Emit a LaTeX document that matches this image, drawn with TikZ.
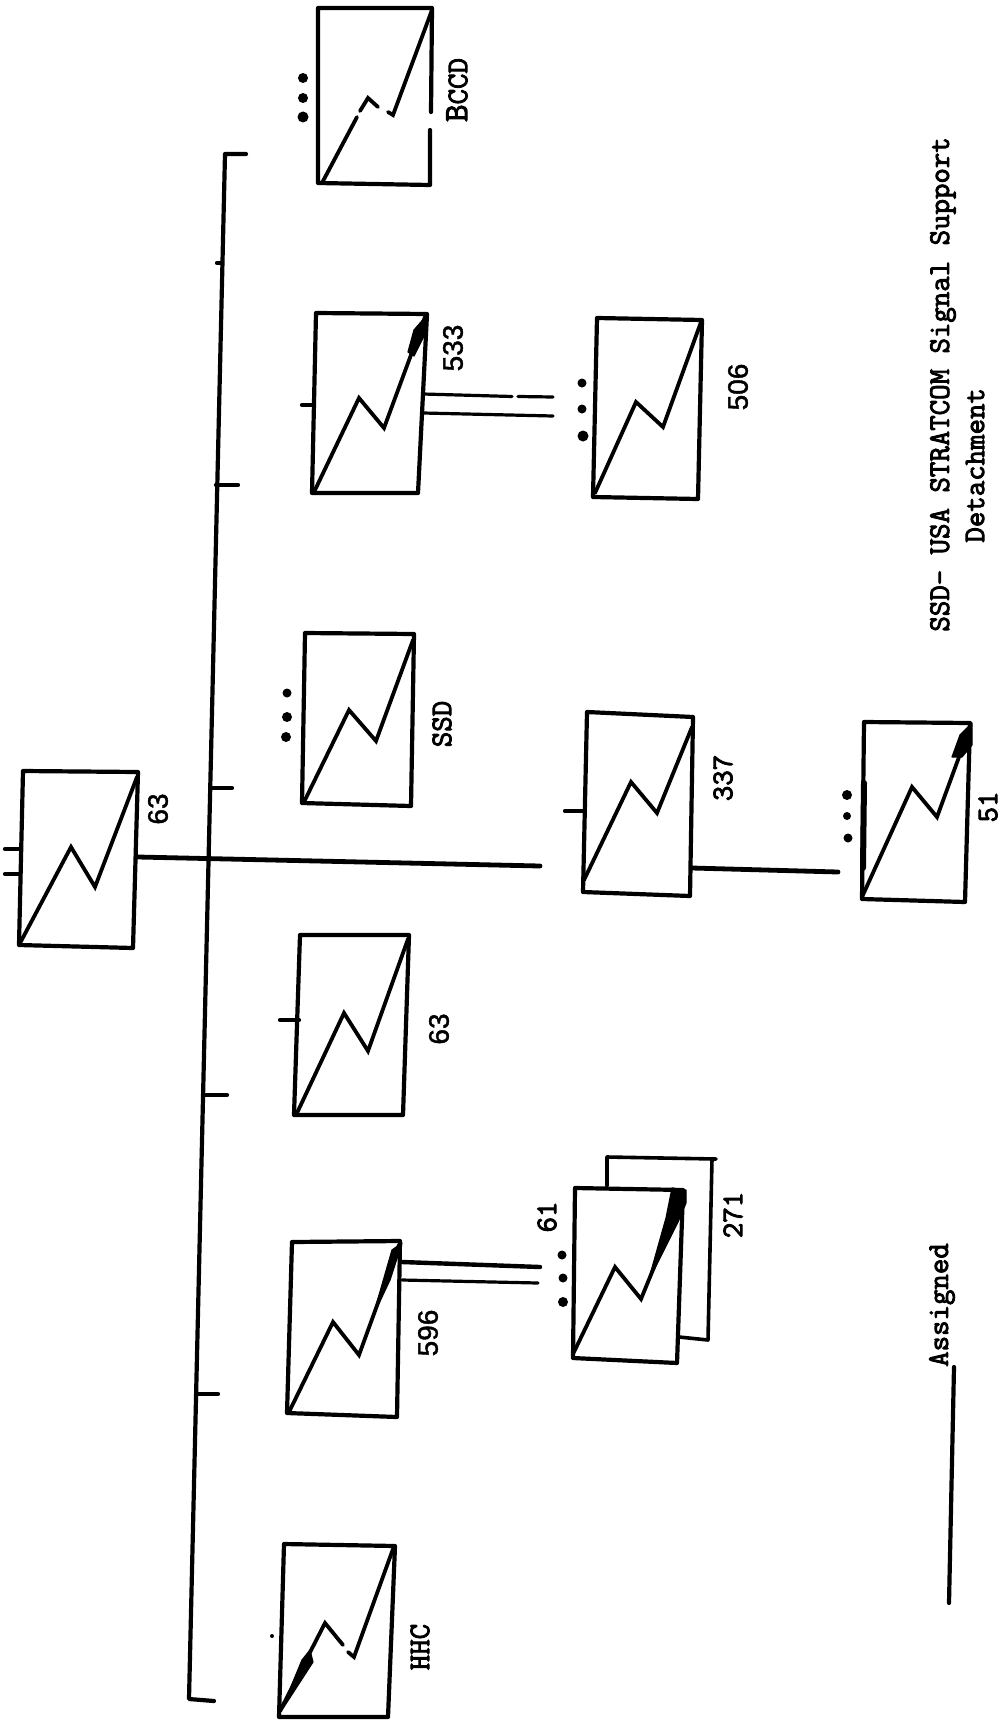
\documentclass[tikz,border=0pt]{standalone}
\usepackage{fontspec}
\setmainfont{Liberation Sans}[BoldFont={Liberation Sans},BoldFeatures={FakeBold=1.5}]
\newfontfamily\typed{Latin Modern Mono}[BoldFont={Latin Modern Mono},BoldFeatures={FakeBold=3}]
\tikzset{
  x=0.5pt,y=-0.5pt,
  boxline/.style={line width=2.1pt,line join=round,line cap=round},
  bolt/.style={line width=1.9pt,line join=miter,line cap=round},
  link/.style={line width=2.1pt,line cap=round},
  thinlink/.style={line width=1.6pt,line cap=round},
  blob/.style={fill=black,draw=black,line width=0.6pt,line join=round},
  dotmark/.style={circle,fill=black,inner sep=0pt,minimum size=#1},
  dotmark/.default=4.5pt,
  handnum/.style={rotate=90,inner sep=0pt,font=\bfseries\fontsize{14}{14}\selectfont},
  typenum/.style={rotate=90,inner sep=0pt,font=\typed\bfseries\fontsize{15}{15}\selectfont},
  legend/.style={rotate=90,inner sep=0pt,font=\typed\bfseries\fontsize{15}{15}\selectfont}
}
% name, four corners TL TR BR BL, four bolt points
\newcommand{\unitbox}[9]{%
  \coordinate (#1-tl) at (#2);\coordinate (#1-tr) at (#3);
  \coordinate (#1-br) at (#4);\coordinate (#1-bl) at (#5);
  \draw[boxline] (#1-tl)--(#1-tr)--(#1-br)--(#1-bl)--cycle;
  \draw[bolt] (#6)--(#7)--(#8)--(#9);
}
\begin{document}
\begin{tikzpicture}
\useasboundingbox (0,0) rectangle (1004,1723);
% ---- headquarters
\unitbox{hq}{23,771}{138,772}{133,948}{19,945}{19,945}{71,847}{95,887}{137,777}
\coordinate (hqtA) at (5,849); \coordinate (hqtB) at (5,874);
\coordinate (hqtAe) at (20,849); \coordinate (hqtBe) at (20,874);
\draw[link] (hqtA)--(hqtAe); \draw[link] (hqtB)--(hqtBe);
\node[handnum] (hqlab) at (158,809) {63};
% ---- bus
\coordinate (busTopEnd) at (246,154);
\coordinate (busTop) at (225,154);
\coordinate (busBot) at (189,1699);
\coordinate (busBotEnd) at (214,1701);
\draw[link,line join=round] (busTopEnd)--(busTop)--(busBot)--(busBotEnd);
\coordinate (busA) at (222,263); \coordinate (busAe) at (217,263);
\coordinate (busB) at (216,485); \coordinate (busBe) at (238,485);
\coordinate (busC) at (210,788); \coordinate (busCe) at (232,788);
\coordinate (busD) at (203,1095); \coordinate (busDe) at (227,1095);
\coordinate (busE) at (196,1394); \coordinate (busEe) at (218,1394);
\foreach \a in {A,B,C,D,E}{\draw[link] (bus\a)--(bus\a e);}
% ---- top unit
\draw[boxline] (430,130)--(430,185)--(318,183)--(318,8)--(432,8)--(431,112);
\coordinate (eccdA) at (322,183);\coordinate (eccdB) at (357,117);
\coordinate (eccdC) at (368,98);\coordinate (eccdD) at (378,107);
\coordinate (eccdE) at (393,115);\coordinate (eccdF) at (432,10);
\draw[bolt] (eccdA)--(eccdB);
\draw[bolt] (360,111)--(eccdC)--(eccdD);
\draw[bolt] (388,112)--(eccdE)--(eccdF);
\node[dotmark=5pt] (eccdd1) at (303,78) {};
\node[dotmark=5pt] (eccdd2) at (303,98) {};
\node[dotmark=5.5pt] (eccdd3) at (303,117) {};
\node[typenum] (eccdlab) at (457,90) {{\fontsize{17}{17}\selectfont B}CCD};
% ---- 533 and 506
\unitbox{u533}{316,313}{427,314}{418,493}{312,493}{315,490}{359,398}{384,428}{425,317}
\fill[blob] (427,315)--(414,330)--(408,352)--(414,356)--(427,330)--cycle;
\coordinate (t533) at (302,405); \coordinate (t533e) at (314,405);
\draw[link] (t533)--(t533e);
\node[handnum] (l533) at (453,348) {533};
\unitbox{u506}{597,318}{702,320}{698,499}{593,497}{595,493}{636,402}{663,427}{701,322}
\node[handnum] (l506) at (738,387) {506};
\node[dotmark=4.5pt] (d506a) at (582,383) {};
\node[dotmark=4.5pt] (d506b) at (582,409) {};
\node[dotmark=5.5pt] (d506c) at (583,436) {};
\coordinate (p533a) at (423,394); \coordinate (q533a) at (512,396.5);
\coordinate (r533a) at (518,396.5); \coordinate (s533a) at (553,397);
\coordinate (p533b) at (423,413); \coordinate (s533b) at (553,416);
\draw[thinlink] (p533a)--(q533a); \draw[thinlink] (r533a)--(s533a);
\draw[thinlink] (p533b)--(s533b);
% ---- SSD
\unitbox{ssd}{305,633}{414,634}{411,806}{302,803}{304,802}{349,710}{376,741}{413,640}
\node[typenum] (lssd) at (442,724) {SSD};
\node[dotmark=4.5pt] (dssda) at (287,693) {};
\node[dotmark=5pt] (dssdb) at (287,717) {};
\node[dotmark=5pt] (dssdc) at (286,737) {};
% ---- 337 and 51
\coordinate (hqOut) at (138,857); \coordinate (mainEnd) at (540,866);
\draw[link,line width=2.4pt] (hqOut)--(mainEnd);
\unitbox{u337}{587,712}{693,717}{690,896}{583,892}{584,880}{631,782}{657,813}{692,727}
\coordinate (t337) at (565,811); \coordinate (t337e) at (585,811);
\draw[link] (t337)--(t337e);
\node[typenum] (l337) at (723,778) {337};
\coordinate (p337) at (692,868); \coordinate (q51) at (838,872);
\draw[link,line width=2.4pt] (p337)--(q51);
\unitbox{u51}{864,722}{970,723}{965,902}{862,899}{862,897}{912,787}{937,817}{970,727}
\fill[blob] (972,723)--(960,735)--(952,757)--(962,757)--(972,745)--cycle;
\draw[link,line width=3pt] (864,783)--(863,868);
\node[dotmark=5pt] (d51a) at (847,795) {};
\node[dotmark=4pt] (d51b) at (847,816) {};
\node[dotmark=4.5pt] (d51c) at (848,838) {};
\node[typenum] (l51) at (988,807) {51};
% ---- lower 63
\unitbox{u63}{300,935}{409,935}{403,1115}{294,1115}{297,1113}{344,1013}{368,1051}{408,939}
\coordinate (t63) at (280,1020); \coordinate (t63e) at (299,1020);
\draw[link] (t63)--(t63e);
\node[handnum] (l63) at (439,1029) {63};
% ---- 596, 61 and 271
\unitbox{u596}{292,1242}{400,1241}{397,1417}{287,1413}{290,1410}{333,1322}{359,1355}{399,1245}
\fill[blob] (402,1243)--(392,1250)--(373,1316)--(390,1280)--cycle;
\node[handnum] (l596) at (428,1333) {596};
\coordinate (p596a) at (402,1262); \coordinate (q61a) at (540,1267);
\coordinate (p596b) at (402,1280); \coordinate (q61b) at (538,1283);
\draw[thinlink,line width=2.2pt] (p596a)--(q61a);
\draw[thinlink] (p596b)--(q61b);
\coordinate (b271a) at (607,1186);
\coordinate (b271b) at (607,1157);
\coordinate (b271c) at (716,1159);
\coordinate (b271d) at (712,1159);
\coordinate (b271e) at (708,1340);
\coordinate (b271f) at (679,1337);
\draw[boxline,line width=1.8pt] (b271a)--(b271b)--(b271c);
\draw[boxline,line width=1.8pt] (b271d)--(b271e)--(b271f);
\unitbox{u61}{575,1188}{683,1190}{677,1363}{573,1358}{573,1354}{615,1267}{641,1299}{684,1194}
\fill[blob] (672,1188)--(686,1190)--(686,1203)--(678,1222)--(648,1282)--(666,1218)--cycle;
\node[typenum] (l61) at (547,1217) {61};
\node[typenum] (l271) at (733,1215) {271};
\node[dotmark=4.5pt] (d61a) at (562,1255) {};
\node[dotmark=4.5pt] (d61b) at (563,1278) {};
\node[dotmark=5pt] (d61c) at (563,1302) {};
% ---- HHC
\draw[boxline] (284,1544)--(395,1546)--(388,1717)--(279,1717)--cycle;
\coordinate (hhcA) at (280,1711);\coordinate (hhcB) at (325,1623);
\coordinate (hhcC) at (343,1645);\coordinate (hhcD) at (348,1652);
\coordinate (hhcE) at (354,1657);\coordinate (hhcF) at (393,1549);
\draw[bolt] (hhcA)--(hhcB)--(hhcC);
\draw[bolt] (hhcD)--(hhcE)--(hhcF);
\fill[blob] (280,1713)--(302,1660)--(310,1650)--(313,1662)--cycle;
\node[dotmark=2pt] (dhhc) at (272,1636) {};
\node[typenum] (lhhc) at (420,1647) {HHC};
% ---- legend
\node[legend] (assigned) at (942,1305) {Assigned};
\coordinate (legA) at (954,1367); \coordinate (legB) at (949,1603);
\draw[link] (legA)--(legB);
\node[legend,anchor=west] (ssdline) at (943,632) {SSD- USA STRATCOM Signal Support};
\node[legend,anchor=west] (ssdline2) at (975,543) {Detachment};
\end{tikzpicture}
\end{document}
